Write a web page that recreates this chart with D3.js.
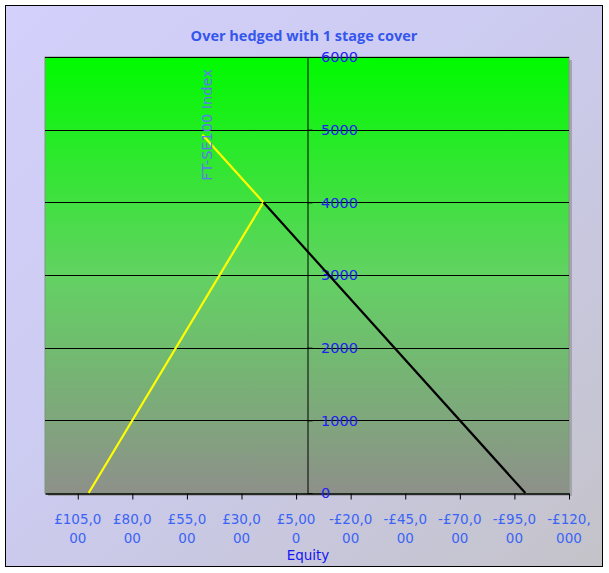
<!DOCTYPE html>
<html><head><meta charset="utf-8">
<script src="https://cdn.jsdelivr.net/npm/d3@7"></script>
<style>html,body{margin:0;padding:0;background:#fff;}svg{display:block;}</style>
</head><body>
<script>
// ---- data ----
const title = "Over hedged with 1 stage cover";
const xTitle = "Equity";
const yTitle = "FT-SE100 Index";
const xDomain = [120000, -120000];
const yDomain = [0, 6000];
const xTickValues = [105000, 80000, 55000, 30000, 5000, -20000, -45000, -70000, -95000, -120000];
const xTickLabels = [["£105,0","00"],["£80,0","00"],["£55,0","00"],["£30,0","00"],["£5,00","0"],
                     ["-£20,0","00"],["-£45,0","00"],["-£70,0","00"],["-£95,0","00"],["-£120,","000"]];
const yTickValues = [0, 1000, 2000, 3000, 4000, 5000, 6000];
const yellowEquity = [100000, 20000, 47900];
const yellowIndex  = [0, 4000, 4930];
const blackEquity  = [20000, -100000];
const blackIndex   = [4000, 0];

// ---- layout ----
const W = 609, H = 573;
const plot = {left: 45, right: 569, top: 57, bottom: 493};
const font = "'DejaVu Sans', sans-serif";

const svg = d3.select("body").append("svg").attr("width", W).attr("height", H);
const defs = svg.append("defs");
const bg = defs.append("linearGradient").attr("id","bg").attr("x1","0").attr("y1","0").attr("x2","1").attr("y2","1");
bg.append("stop").attr("offset","0%").attr("stop-color","#d3d0fb");
bg.append("stop").attr("offset","45%").attr("stop-color","#cccbf0");
bg.append("stop").attr("offset","100%").attr("stop-color","#c4c3c9");
const pg = defs.append("linearGradient").attr("id","pg").attr("x1","0").attr("y1","0").attr("x2","0").attr("y2","1");
pg.append("stop").attr("offset","0%").attr("stop-color","#00fb00");
pg.append("stop").attr("offset","50%").attr("stop-color","#62d262");
pg.append("stop").attr("offset","100%").attr("stop-color","#8e908a");

// chart area
svg.append("rect").attr("x",5.5).attr("y",5.5).attr("width",597).attr("height",561)
  .attr("fill","url(#bg)").attr("stroke","#000").attr("stroke-width",1);

const x = d3.scaleLinear().domain(xDomain).range([plot.left, plot.right]);
const y = d3.scaleLinear().domain(yDomain).range([plot.bottom, plot.top]);

// plot shadow + area
svg.append("rect").attr("x",plot.left+3).attr("y",plot.top+3)
  .attr("width",plot.right-plot.left).attr("height",plot.bottom-plot.top).attr("fill","#a4a3ae");
svg.append("rect").attr("x",plot.left).attr("y",plot.top)
  .attr("width",plot.right-plot.left).attr("height",plot.bottom-plot.top)
  .attr("fill","url(#pg)").attr("stroke","#7a9a7a").attr("stroke-width",1);

// gridlines
svg.append("g").selectAll("line").data(yTickValues.filter(v=>v>0)).join("line")
  .attr("x1",plot.left).attr("x2",plot.right)
  .attr("y1",d=>Math.round(y(d))+0.5).attr("y2",d=>Math.round(y(d))+0.5)
  .attr("stroke","#000").attr("stroke-width",1);

// x axis
const xAxis = svg.append("g").attr("transform",`translate(0,${plot.bottom+0.5})`)
  .call(d3.axisBottom(x).tickValues(xTickValues).tickSizeInner(6).tickSizeOuter(0).tickFormat(""));
xAxis.select(".domain").attr("stroke","#000").attr("stroke-width",1.5);
xAxis.selectAll(".tick line").attr("stroke","#000");
const xl = svg.append("g").selectAll("text").data(xTickValues).join("text")
  .attr("x",d=>x(d)).attr("y",524)
  .attr("text-anchor","middle").attr("font-family",font).attr("font-size",13.5).attr("fill","#3b64f5");
xl.each(function(d,i){
  const t = d3.select(this);
  xTickLabels[i].forEach((s,j)=>t.append("tspan").attr("x",x(d)).attr("dy",j?19:0).text(s));
});

// y axis
const yAxis = svg.append("g").attr("transform",`translate(${Math.round(x(0))+0.5},0)`)
  .call(d3.axisRight(y).tickValues(yTickValues).tickSizeInner(5).tickSizeOuter(0).tickFormat(""));
yAxis.select(".domain").attr("stroke","#000").attr("stroke-width",1);
yAxis.selectAll(".tick line").attr("stroke","#000");
svg.append("g").selectAll("text").data(yTickValues).join("text")
  .attr("x",Math.round(x(0))+14).attr("y",d=>y(d)).attr("dy","0.36em")
  .attr("font-family",font).attr("font-size",14.5).attr("fill","#2020f0").text(d=>d);

// lines
const line = d3.line().x(d=>x(d[0])).y(d=>y(d[1]));
svg.append("path").datum(yellowEquity.map((e,i)=>[e,yellowIndex[i]]))
  .attr("d",line).attr("fill","none").attr("stroke","#ffff00").attr("stroke-width",2.2);
svg.append("path").datum(blackEquity.map((e,i)=>[e,blackIndex[i]]))
  .attr("d",line).attr("fill","none").attr("stroke","#000").attr("stroke-width",2.2);

// titles
svg.append("text").attr("x",304).attr("y",36).attr("dy","0.35em").attr("text-anchor","middle")
  .attr("font-family","'Open Sans', sans-serif").attr("font-weight","bold").attr("font-size",14.5)
  .attr("fill","#3556ee").text(title);
svg.append("text").attr("x",308).attr("y",555).attr("dy","0.35em").attr("text-anchor","middle")
  .attr("font-family",font).attr("font-size",13.5).attr("fill","#1515f5").text(xTitle);
svg.append("text").attr("transform","translate(207,125) rotate(-90)").attr("dy","0.35em")
  .attr("text-anchor","middle").attr("font-family",font).attr("font-size",14.5)
  .attr("fill","#5a78ee").text(yTitle);
</script>
</body></html>
